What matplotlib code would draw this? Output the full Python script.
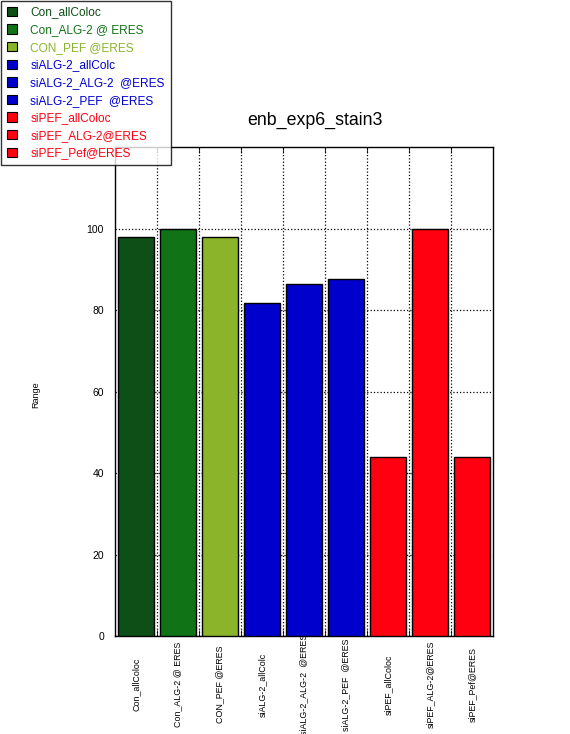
import numpy as np
import matplotlib.pyplot as plt
from matplotlib.patches import Patch

plt.rcParams['font.family'] = ['Liberation Sans', 'DejaVu Sans']

labels = ["Con_allColoc", "Con_ALG-2 @ ERES", "CON_PEF @ERES",
          "siALG-2_allColc", "siALG-2_ALG-2  @ERES", "siALG-2_PEF  @ERES",
          "siPEF_allColoc", "siPEF_ALG-2@ERES", "siPEF_Pef@ERES"]
values = [98, 100, 98, 81.8, 86.5, 87.5, 44, 100, 44]
colors = ["#0e4f17", "#107316", "#8bb42a", "#0000cc", "#0000cc", "#0000cc",
          "#ff0010", "#ff0010", "#ff0010"]

fig = plt.figure(figsize=(5.7, 7.34), dpi=100)
ax = fig.add_axes([0.2018, 0.1335, 0.6632, 0.6662])

x = np.arange(len(labels))
ax.bar(x, values, width=0.86, color=colors, edgecolor="black", linewidth=1, zorder=3)

ax.set_xlim(-0.5, len(labels) - 0.5)
ax.set_ylim(0, 120)
ax.set_yticks([0, 20, 40, 60, 80, 100])
ax.tick_params(axis="y", labelsize=7.5, length=0, pad=8)
ax.set_xticks(x)
ax.set_xticklabels(labels, rotation=90, fontsize=6.4, va="center")
ax.tick_params(axis="x", length=0, pad=35)
ax.set_xticks(np.arange(0.5, len(labels) - 0.5), minor=True)
ax.tick_params(axis="x", which="minor", length=4, direction="in", top=True, bottom=True)
ax.grid(True, axis="y", which="major", linestyle=":", color="black", linewidth=0.9, zorder=0)
ax.grid(True, axis="x", which="minor", linestyle=":", color="black", linewidth=0.9, zorder=0)
for s in ax.spines.values():
    s.set_linewidth(1)

ax.set_title("enb_exp6_stain3", fontsize=12.8, pad=16, x=0.53)
fig.text(0.063, 0.462, "Range", rotation=90, fontsize=6.5, ha="center", va="center")

handles = [Patch(facecolor=c, edgecolor="black", linewidth=0.8) for c in colors]
leg = fig.legend(handles, labels, loc="upper left", bbox_to_anchor=(0.0, 1.0),
                 fontsize=8.6, frameon=True, fancybox=False, edgecolor="black",
                 handlelength=0.85, handleheight=0.85, handletextpad=1.15,
                 labelspacing=0.47, borderpad=0.5, borderaxespad=0.05)
leg.get_frame().set_linewidth(1)
for t, c in zip(leg.get_texts(), colors):
    t.set_color(c)

fig.savefig("out.png", dpi=100)
